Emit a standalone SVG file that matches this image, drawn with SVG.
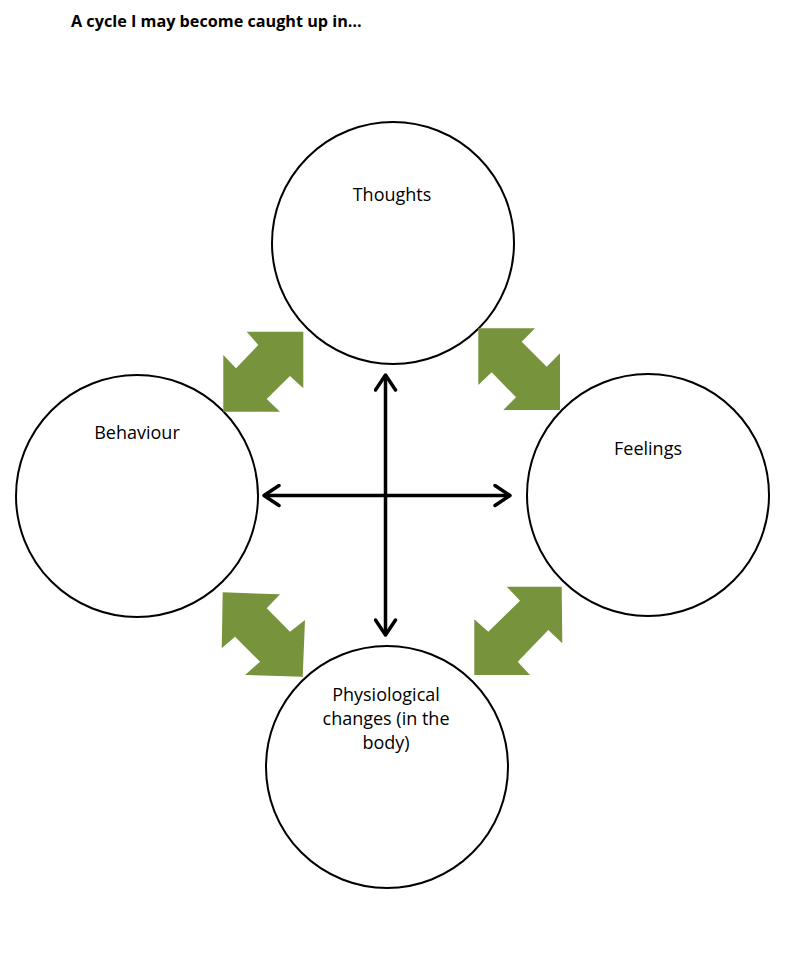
<svg xmlns="http://www.w3.org/2000/svg" width="789" height="955" viewBox="0 0 789 955">
<style>
  .node circle { fill: #ffffff; stroke: #000000; stroke-width: 2; }
  .label { font-family: "Open Sans", "Liberation Sans", sans-serif; font-size: 18px; fill: #000000; text-anchor: middle; }
  .title { font-family: "Open Sans", "Liberation Sans", sans-serif; font-size: 16.2px; font-weight: bold; fill: #000000; }
  .green { fill: #77933C; }
  .line { stroke: #000000; stroke-width: 3.5; fill: none; }
</style>
<defs>
  <marker id="head" viewBox="0 0 20 24" refX="17" refY="12" markerWidth="20" markerHeight="24" markerUnits="userSpaceOnUse" orient="auto-start-reverse">
    <path d="M2,2 L17,12 L2,22" fill="none" stroke="#000000" stroke-width="3.5" stroke-linecap="round" stroke-linejoin="round"/>
  </marker>
</defs>
<rect width="789" height="955" fill="#ffffff"/>
<text class="title" x="71" y="27">A cycle I may become caught up in…</text>

<g id="thoughts" class="node">
  <circle cx="393" cy="243" r="121"/>
  <text class="label" x="392" y="201">Thoughts</text>
</g>
<g id="behaviour" class="node">
  <circle cx="137" cy="496" r="121"/>
  <text class="label" x="137" y="439">Behaviour</text>
</g>
<g id="feelings" class="node">
  <circle cx="648" cy="495" r="121"/>
  <text class="label" x="648" y="455">Feelings</text>
</g>
<g id="physiological" class="node">
  <circle cx="387" cy="767" r="121"/>
  <text class="label" x="386" y="701">Physiological</text>
  <text class="label" x="386" y="725">changes (in the</text>
  <text class="label" x="386" y="749">body)</text>
</g>

<g id="connectors">
  <polygon class="green" points="246.7,331.7 303.3,331.7 303.3,388.3 290,376 266.7,399 280,411.7 223.3,411.7 223.3,355 236,368.3 258.3,345"/>
  <polygon class="green" points="478.3,328.3 535,328.3 521.7,341.7 546.7,366.7 560,353.3 560,410 503.3,410 516,397.3 491.7,372.3 478.3,385"/>
  <polygon class="green" points="222.7,592.3 280,594.3 266.7,608.3 290,631.7 305,620 302.7,676.7 245,675 260,661.7 235,636.7 221.7,648.3"/>
  <polygon class="green" points="561.7,586.7 506.7,586.7 520,600.7 488.3,631.7 474.3,619.3 474.3,675 530,675 517.7,661.7 548.3,630 562.3,643.3"/>
  <line class="line" x1="385.5" y1="375" x2="385.5" y2="635" marker-start="url(#head)" marker-end="url(#head)"/>
  <line class="line" x1="264" y1="495.5" x2="510" y2="495.5" marker-start="url(#head)" marker-end="url(#head)"/>
</g>
</svg>
